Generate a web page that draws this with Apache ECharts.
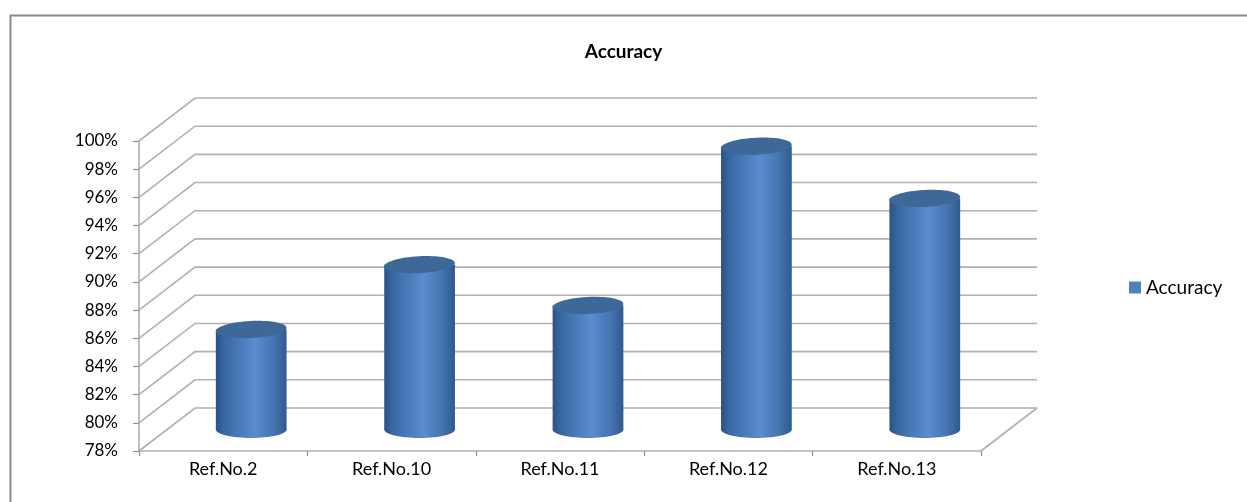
<!DOCTYPE html>
<html lang="en">
<head>
<meta charset="UTF-8">
<title>Accuracy</title>
<script src="https://cdn.jsdelivr.net/npm/echarts@6/dist/echarts.min.js"></script>
<style>
    html, body { margin: 0; padding: 0; background: #fff; }
    #chart { width: 1247px; height: 502px; }
</style>
</head>
<body>
<div id="chart"></div>
<script>
    const categories = ['Ref.No.2', 'Ref.No.10', 'Ref.No.11', 'Ref.No.12', 'Ref.No.13'];
    const accuracy = [85.1, 89.7, 86.8, 98.1, 94.4];
    const yTicks = [78, 80, 82, 84, 86, 88, 90, 92, 94, 96, 98, 100];

    // fake 3d depth of the plot box
    const DX = 56, DY = 43;
    const GRID_COLOR = '#b0b0b0';
    const FONT = 'Lato';

    const chart = echarts.init(document.getElementById('chart'));

    function renderWall(params, api) {
        const v = api.value(1);
        const cs = params.coordSys;
        const y = api.coord([0, v])[1];
        const x0 = cs.x, x1 = cs.x + cs.width;
        const style = { stroke: GRID_COLOR, lineWidth: 1.6, fill: null };
        const children = [{
            type: 'polyline',
            shape: { points: [[x0, y], [x0 + DX, y - DY], [x1 + DX, y - DY]] },
            style: style
        }];
        if (params.dataIndex === 0) {
            children.push({
                type: 'line',
                shape: { x1: x1, y1: y, x2: x1 + DX, y2: y - DY },
                style: style
            });
        }
        return { type: 'group', children: children };
    }

    function renderCylinder(params, api) {
        const i = api.value(0), v = api.value(1);
        const base = api.coord([i, yTicks[0]]);
        const top = api.coord([i, v]);
        const w = api.size([1, 0])[0] * 0.42;
        const cx = base[0] + DX / 2;
        const by = base[1] - DY / 2;
        const ty = top[1] - DY / 2;
        const rx = w / 2, ry = 8.5;
        const grad = new echarts.graphic.LinearGradient(0, 0, 1, 0, [
            { offset: 0, color: '#2b5283' },
            { offset: 0.12, color: '#3a68a3' },
            { offset: 0.55, color: '#5a8ccf' },
            { offset: 0.82, color: '#4674b0' },
            { offset: 1, color: '#2f5a8e' }
        ]);
        return {
            type: 'group',
            children: [
                { type: 'ellipse', shape: { cx: cx, cy: by, rx: rx, ry: ry }, style: { fill: grad } },
                { type: 'rect', shape: { x: cx - rx, y: ty, width: w, height: by - ty }, style: { fill: grad } },
                {
                    type: 'ellipse', shape: { cx: cx, cy: ty, rx: rx, ry: ry },
                    originX: cx, originY: ty, rotation: 0.05,
                    style: { fill: '#3e6898' }
                }
            ]
        };
    }

    const option = {
        animation: false,
        backgroundColor: '#fff',
        title: {
            text: 'Accuracy',
            left: 'center',
            top: 42,
            padding: 0,
            textStyle: { fontFamily: FONT, fontSize: 19, fontWeight: 'bold', color: '#000' }
        },
        legend: {
            data: ['Accuracy'],
            left: 1129,
            top: 278,
            padding: 0,
            icon: 'rect',
            itemWidth: 12,
            itemHeight: 12,
            itemGap: 6,
            textStyle: { fontFamily: FONT, fontSize: 19, color: '#000' }
        },
        graphic: [{
            type: 'rect',
            left: 8, top: 13,
            shape: { width: 1300, height: 600 },
            style: { fill: null, stroke: '#8a8a8a', lineWidth: 2 },
            z: 0
        }],
        grid: { left: 139, right: 266, top: 141, bottom: 51, containLabel: false, outerBoundsMode: 'none' },
        xAxis: {
            type: 'category',
            data: categories,
            axisLine: { lineStyle: { color: GRID_COLOR, width: 1.6 } },
            axisTick: { show: true, length: 5, lineStyle: { color: '#909090', width: 1.2 } },
            axisLabel: { margin: 9, fontFamily: FONT, fontSize: 18, color: '#000' },
            splitLine: { show: false }
        },
        yAxis: {
            type: 'value',
            min: yTicks[0],
            max: yTicks[yTicks.length - 1],
            interval: yTicks[1] - yTicks[0],
            axisLine: { show: true, lineStyle: { color: GRID_COLOR, width: 1.6 } },
            axisTick: { show: true, length: 6, lineStyle: { color: '#909090', width: 1.2 } },
            axisLabel: { margin: 21, fontFamily: FONT, fontSize: 17, color: '#000', formatter: '{value}%' },
            splitLine: { show: false }
        },
        series: [
            {
                name: 'walls',
                type: 'custom',
                renderItem: renderWall,
                data: yTicks.map(v => [0, v]),
                silent: true,
                z: 1
            },
            {
                name: 'Accuracy',
                type: 'custom',
                renderItem: renderCylinder,
                itemStyle: { color: '#4f81bd' },
                data: accuracy.map((v, i) => [i, v]),
                z: 3
            }
        ]
    };

    chart.setOption(option);
</script>
</body>
</html>
